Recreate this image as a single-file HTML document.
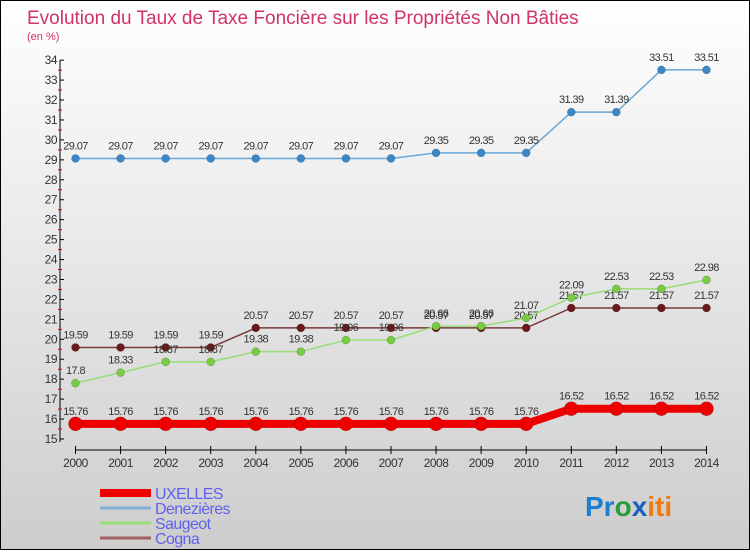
<!DOCTYPE html>
<html><head><meta charset="utf-8"><style>
html,body{margin:0;padding:0}
body{width:750px;height:550px;overflow:hidden;font-family:"Liberation Sans",sans-serif}
</style></head><body>
<svg id="chart" width="750" height="550" xmlns="http://www.w3.org/2000/svg">
<defs><linearGradient id="bg" x1="0" y1="0" x2="0" y2="1"><stop offset="0" stop-color="#ffffff"/><stop offset="1" stop-color="#cdcdcd"/></linearGradient></defs>
<rect x="0.5" y="0.5" width="749" height="549" fill="url(#bg)" stroke="#000"/>
<text x="27" y="24" font-size="19" fill="#d0336a">Evolution du Taux de Taxe Foncière sur les Propriétés Non Bâties</text>
<text x="27" y="40" font-size="11" fill="#d0336a">(en %)</text>
<g id="axes"></g><g id="series"></g><g id="legend"></g>
<text x="585" y="516" font-size="28" font-weight="bold" fill="#1a7fd0">Pr<tspan fill="#2a9a3a">o</tspan><tspan fill="#1a5fc0">x</tspan><tspan fill="#f07a10">iti</tspan></text>
</svg>
<script>
const years=[2000,2001,2002,2003,2004,2005,2006,2007,2008,2009,2010,2011,2012,2013,2014];
const yTicks=[15,16,17,18,19,20,21,22,23,24,25,26,27,28,29,30,31,32,33,34];
const uxelles=[15.76,15.76,15.76,15.76,15.76,15.76,15.76,15.76,15.76,15.76,15.76,16.52,16.52,16.52,16.52];
const denezieres=[29.07,29.07,29.07,29.07,29.07,29.07,29.07,29.07,29.35,29.35,29.35,31.39,31.39,33.51,33.51];
const saugeot=[17.8,18.33,18.87,18.87,19.38,19.38,19.96,19.96,20.66,20.66,21.07,22.09,22.53,22.53,22.98];
const cogna=[19.59,19.59,19.59,19.59,20.57,20.57,20.57,20.57,20.57,20.57,20.57,21.57,21.57,21.57,21.57];
const seriesNames=["UXELLES","Denezières","Saugeot","Cogna"];

const NS="http://www.w3.org/2000/svg";
function x(i){return 75.5+i*45.07;}
function y(v){return 439-(v-15)*19.94;}
function mk(parent,tag,attrs){const e=document.createElementNS(NS,tag);for(const k in attrs)e.setAttribute(k,attrs[k]);parent.appendChild(e);return e;}
const axes=document.getElementById('axes'),ser=document.getElementById('series'),leg=document.getElementById('legend');
let e;
e=mk(axes,'line',{x1:60,x2:60,y1:y(34),y2:y(15)+3,stroke:'#000'});


e=mk(axes,'line',{x1:x(0),x2:x(14),y1:450,y2:450,stroke:'#000'});


yTicks.forEach((t,i)=>{
  mk(axes,'line',{x1:60,x2:64,y1:y(t),y2:y(t),stroke:'#000'});
  if(i<yTicks.length-1) mk(axes,'line',{x1:58,x2:62,y1:y(t+0.5),y2:y(t+0.5),stroke:'#e00000'});
  e=mk(axes,'text',{x:57,y:y(t)+4,'font-size':12,'text-anchor':'end',fill:'#333','letter-spacing':'-0.5'});
  e.textContent=t;
  
  
});
years.forEach((yr,i)=>{
  mk(axes,'line',{x1:x(i),x2:x(i),y1:446,y2:454,stroke:'#000'});
  e=mk(axes,'text',{x:x(i),y:467,'font-size':12,'text-anchor':'middle',fill:'#333','letter-spacing':'-0.5'});
  e.textContent=yr;
  
  
});
function drawSeries(vals,color,dot,width,r,name){
  const g=mk(ser,'g',{});
  
  
  const pts=vals.map((v,i)=>x(i)+','+y(v)).join(' ');
  mk(g,'polyline',{points:pts,fill:'none',stroke:color,'stroke-width':width});
  vals.forEach((v,i)=>{
    e=mk(g,'circle',{cx:x(i),cy:y(v),r:r,fill:dot,stroke:'rgba(0,0,0,0.3)','stroke-width':0.5});
    
    
    e=mk(g,'text',{x:x(i),y:y(v)-9,'font-size':11,'text-anchor':'middle',fill:'#333','letter-spacing':'-0.6'});
    e.textContent=v;
    
    
  });
}
drawSeries(cogna,'#7a3a3a','#6a1a1a',1.5,4,'cogna');
drawSeries(saugeot,'#99dd77','#77cc44',1.5,4,'saugeot');
drawSeries(denezieres,'#6aa8d8','#3a88c8',1.5,4,'denezieres');
drawSeries(uxelles,'#ee0000','#ee0000',8,7,'uxelles');
const legColors=['#ee0000','#80b0d8','#99dd77','#a06060'],legW=[8,3,3,3];
seriesNames.forEach((n,i)=>{
  const g=mk(leg,'g',{});
  
  
  const ly=493+i*15;
  mk(g,'line',{x1:100,x2:151,y1:ly,y2:ly,stroke:legColors[i],'stroke-width':legW[i]});
  e=mk(g,'text',{x:155,y:ly+6,'font-size':16,fill:'#6060f0','letter-spacing':'-0.6'});
  e.textContent=n;
});
</script>
</body></html>
